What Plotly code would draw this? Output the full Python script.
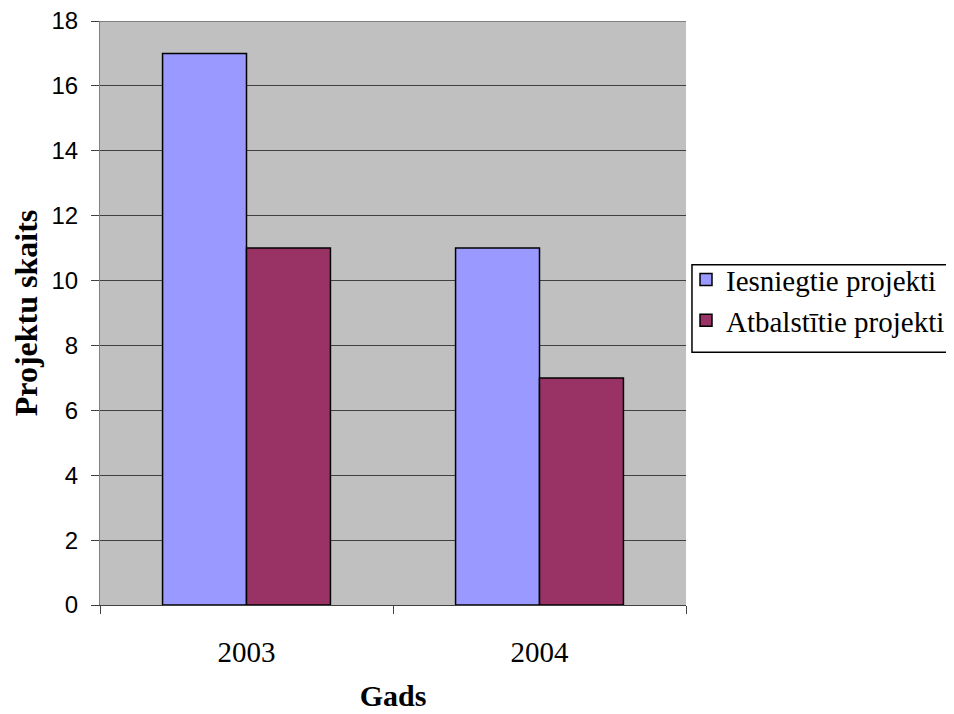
import plotly.graph_objects as go

years = ["2003", "2004"]
iesniegtie = [17, 11]
atbalstitie = [11, 7]
y_ticks = [0, 2, 4, 6, 8, 10, 12, 14, 16, 18]
y_max = 18

fig = go.Figure()
fig.add_trace(go.Bar(x=years, y=iesniegtie, name="Iesniegtie projekti",
                     marker=dict(color="#9999FF", line=dict(color="black", width=1.5))))
fig.add_trace(go.Bar(x=years, y=atbalstitie, name="Atbalstītie projekti",
                     marker=dict(color="#993366", line=dict(color="black", width=1.5))))

fig.update_layout(
    width=954, height=714,
    margin=dict(l=92, r=276, t=13, b=117, autoexpand=False),
    paper_bgcolor="white", plot_bgcolor="#C0C0C0",
    barmode="group", bargap=0.427, bargroupgap=0,
    legend=dict(x=1.0, xanchor="left", y=0.522, yanchor="middle",
                font=dict(family="Liberation Serif", size=29, color="black"),
                borderwidth=0, bgcolor="rgba(0,0,0,0)",
                tracegroupgap=0, itemwidth=30),
    showlegend=True,
    shapes=[
        dict(type="rect", xref="paper", yref="paper",
             x0=1.0102, x1=1.6, y0=0.4327, y1=0.5826,
             line=dict(color="black", width=1.5), fillcolor="rgba(0,0,0,0)", layer="below"),
        dict(type="line", xref="paper", yref="y", x0=0, x1=1, y0=y_max, y1=y_max,
             line=dict(color="#404040", width=1)),
    ],
)
fig.update_xaxes(type="category", tickson="boundaries", ticks="outside", ticklen=8,
                 tickcolor="#404040", showline=True, linecolor="#404040", linewidth=1,
                 showgrid=False, ticklabelstandoff=21, automargin=False,
                 tickfont=dict(family="Liberation Serif", size=29, color="black"),
                 title=dict(text="<b>Gads</b>", font=dict(family="Liberation Serif", size=30, color="black"), standoff=18))
fig.update_yaxes(range=[0, y_max], tickvals=y_ticks, ticks="outside", ticklen=8,
                 tickcolor="#404040", showline=True, linecolor="#808080", linewidth=1,
                 gridcolor="#404040", gridwidth=1, zeroline=False, ticklabelstandoff=8,
                 ticklabeloverflow="allow", automargin=False,
                 tickfont=dict(family="Liberation Sans", size=24, color="black"),
                 title=dict(text="<b>Projektu skaits</b>", font=dict(family="Liberation Serif", size=32, color="black"), standoff=17))

fig.write_html("out.html")
